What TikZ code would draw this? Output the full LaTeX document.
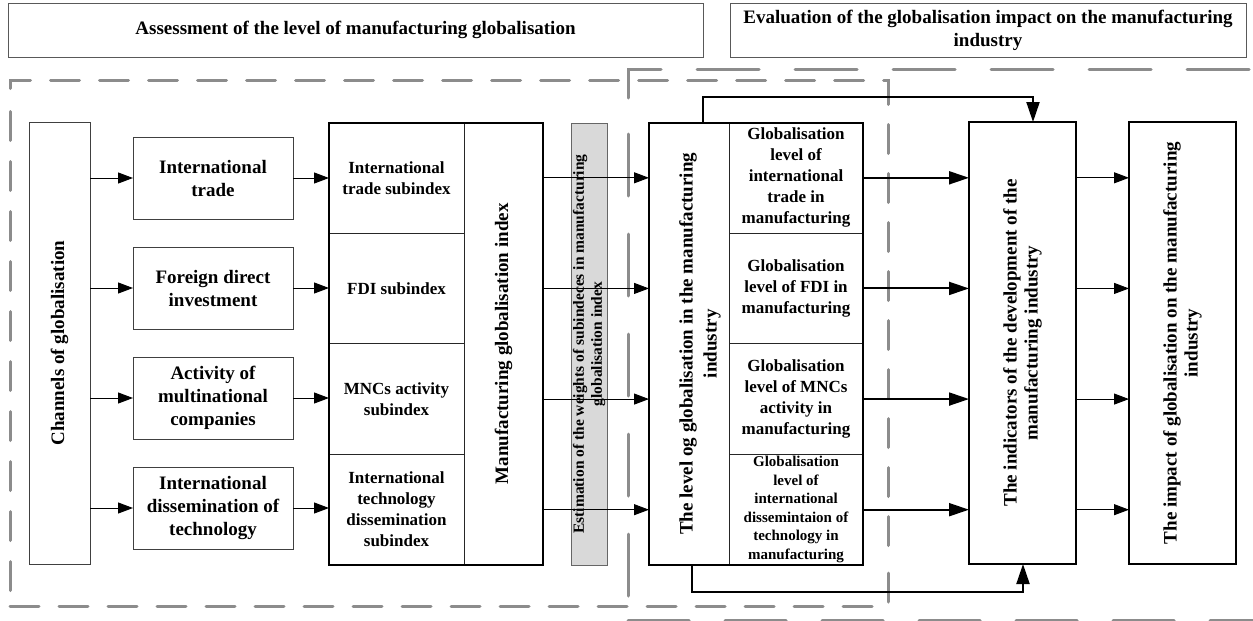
\documentclass[tikz,border=0pt]{standalone}
\usepackage{fontspec}
\setmainfont{Liberation Serif}
\usetikzlibrary{arrows.meta}
\begin{document}
\begin{tikzpicture}[x=1pt,y=-1pt,
  every node/.style={inner sep=0pt, outer sep=0pt, align=center, font=\bfseries\fontsize{19}{23}\selectfont},
  hdr/.style={draw=black!65, line width=1pt},
  chbox/.style={draw=black!75, line width=1pt, minimum width=160pt, minimum height=82pt},
  cell/.style={draw=black!85, line width=1pt, minimum height=110.625pt, font=\bfseries\fontsize{17}{21}\selectfont},
  small/.style={font=\bfseries\fontsize{15}{18.5}\selectfont},
  vlabel/.style={rotate=90, font=\bfseries\fontsize{19}{21}\selectfont},
  frame/.style={draw=black, line width=2pt},
  dashL/.style={draw=black!45, line width=3pt, line cap=round, dash pattern=on 29pt off 20pt},
  dashR/.style={draw=black!45, line width=3pt, line cap=round, dash pattern=on 62pt off 36pt},
  arr/.style={draw=black, line width=1pt, -{Triangle[length=15pt,width=11pt]}},
  tarr/.style={draw=black, line width=2pt, -{Triangle[length=20pt,width=13pt]}}
]
\useasboundingbox (0,0) rectangle (1253,621);

% dashed regions
\draw[dashL, dash phase=37.5pt] (10,100) -- (10,80) -- (888,80) -- (888,550);
\draw[dashL] (10,606) -- (888,606) -- (888,570);
\draw[dashL, dash pattern=on 29pt off 21pt] (10,590.5) -- (10,110);
\draw[dashR] (628,98) -- (628,69) -- (1262,69);
\draw[dashR, dash pattern=on 62pt off 38pt] (628,134) -- (628,600);
\draw[dashR, dash pattern=on 61pt off 36pt] (628,620) -- (1262,620);

% headers
\node[hdr, minimum width=695pt, minimum height=54pt] (h1) at (355.5,30) {Assessment of the level of manufacturing globalisation};
\node[hdr, minimum width=516pt, minimum height=54pt] (h2) at (988,30) {Evaluation of the globalisation impact on the manufacturing\\industry};

% channels
\node[vlabel, draw=black!75, line width=1pt, minimum width=442pt, minimum height=61pt] (ch) at (59.5,343) {Channels of globalisation};
\node[chbox] (b1) at (213,178) {International\\trade};
\node[chbox] (b2) at (213,288) {Foreign direct\\investment};
\node[chbox] (b3) at (213,398) {Activity of\\multinational\\companies};
\node[chbox] (b4) at (213,508) {International\\dissemination of\\technology};

% index box
\node[cell, minimum width=135pt] (s1) at (396.5,177.81) {International\\trade subindex};
\node[cell, minimum width=135pt] (s2) at (396.5,288.44) {FDI subindex};
\node[cell, minimum width=135pt] (s3) at (396.5,399.06) {MNCs activity\\subindex};
\node[cell, minimum width=135pt] (s4) at (396.5,509.69) {International\\technology\\dissemination\\subindex};
\node[vlabel, draw=black!85, line width=1pt, minimum width=442.5pt, minimum height=79pt] (il) at (503.5,343.75) {Manufacturing globalisation index};
\node[frame, minimum width=214pt, minimum height=442.5pt] (iframe) at (436,343.75) {};

% weights box
\node[rotate=90, fill=black!15, draw=black!60, line width=1pt, minimum width=442pt, minimum height=36pt, font=\bfseries\fontsize{15.5}{18}\selectfont] (wt) at (589,344) {Estimation of the weights of subindeces in manufacturing\\globalisation index};

% level box
\node[rotate=90, draw=black!85, line width=1pt, minimum width=442.5pt, minimum height=80pt] (ll) at (689,343.75) {};
\node[vlabel, font=\bfseries\fontsize{19}{24}\selectfont] (llt) at (700,343.75) {The level og globalisation in the manufacturing\\industry};
\node[cell, minimum width=134pt] (c1) at (796,177.81) {Globalisation\\level of\\international\\trade in\\manufacturing};
\node[cell, minimum width=134pt] (c2) at (796,288.44) {Globalisation\\level of FDI in\\manufacturing};
\node[cell, minimum width=134pt] (c3) at (796,399.06) {Globalisation\\level of MNCs\\activity in\\manufacturing};
\node[cell, small, minimum width=134pt] (c4) at (796,509.69) {Globalisation\\level of\\international\\dissemintaion of\\technology in\\manufacturing};
\node[frame, minimum width=214pt, minimum height=442.5pt] (lframe) at (756,343.75) {};

% indicators and impact
\node[vlabel, frame, minimum width=442pt, minimum height=107pt] (ind) at (1022.5,343) {The indicators of the development of the\\manufacturing industry};
\node[vlabel, frame, minimum width=442pt, minimum height=107pt] (imp) at (1182.5,343) {The impact of globalisation on the manufacturing\\industry};

% connectors
\foreach \b in {b1,b2,b3,b4} {
  \draw[arr] (\b.west -| ch.south) -- (\b.west);
}
\draw[arr] (b1.east) -- (b1.east -| s1.west);
\draw[arr] (b2.east) -- (b2.east -| s2.west);
\draw[arr] (b3.east) -- (b3.east -| s3.west);
\draw[arr] (b4.east) -- (b4.east -| s4.west);
\foreach \s in {s1,s2,s3,s4} {
  \draw[arr] (\s.east -| il.south) -- (\s.east -| ll.north);
}
\foreach \c in {c1,c2,c3,c4} {
  \draw[tarr] (\c.east) -- (\c.east -| ind.north);
  \draw[arr] (\c.east -| ind.south) -- (\c.east -| imp.north);
}
\draw[tarr] ([xshift=14pt]ll.east) -- ++(0,-26) -| ([xshift=10.5pt]ind.east);
\draw[tarr] ([xshift=3pt]ll.west) -- ++(0,27) -| ([xshift=0.5pt]ind.west);
\end{tikzpicture}
\end{document}
